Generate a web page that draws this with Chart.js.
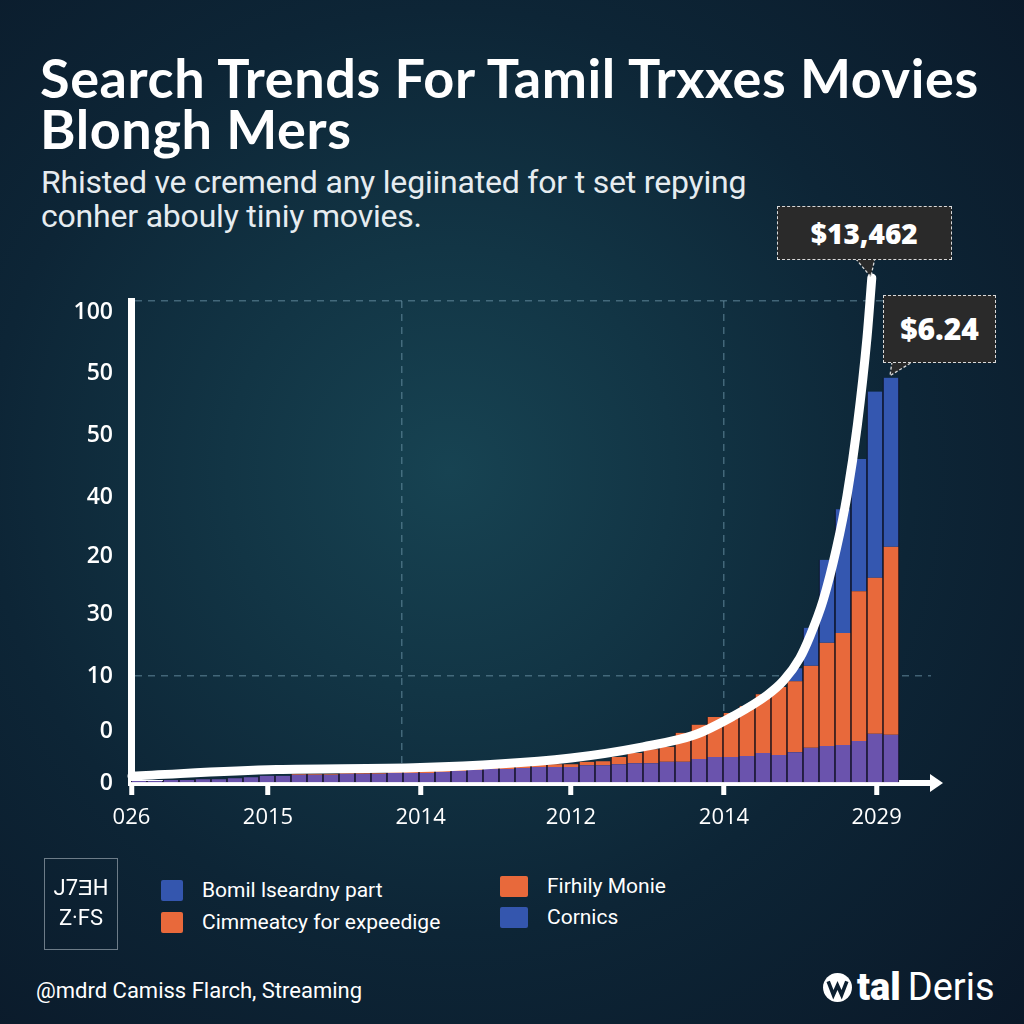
<!DOCTYPE html>
<html>
<head>
<meta charset="utf-8">
<script src="https://cdn.jsdelivr.net/npm/chart.js@4.4.1/dist/chart.umd.min.js"></script>
<style>
  html, body { margin: 0; padding: 0; }
  body {
    width: 1024px; height: 1024px; overflow: hidden; position: relative;
    background: radial-gradient(circle at 44% 46%, #174352 0%, #123545 28%, #0d2536 58%, #0a1828 100%);
    font-family: 'Roboto', sans-serif; color: #fff;
  }
  #title { position: absolute; left: 40px; top: 52px; font-family: 'Lato', sans-serif; font-weight: 700;
    font-size: 54px; line-height: 51px; letter-spacing: 0.6px; white-space: nowrap; }
  #sub { position: absolute; left: 41px; top: 165px; font-size: 32px; line-height: 34px; letter-spacing: -0.2px;
    color: #e6ecf0; white-space: nowrap; }
  #wrap { position: absolute; left: 0; top: 0; width: 1024px; height: 860px; }
  .callout { position: absolute; background: #2a2a2a; border: 1.5px dashed #d9d9d9; color: #fff;
    font-family: 'Open Sans', sans-serif; font-weight: 800; text-align: center; box-sizing: border-box; }
  #c1 { width: 175px; height: 54px; line-height: 52px; font-size: 28px; }
  #c2 { width: 113px; height: 68px; line-height: 66px; font-size: 30px; }
  #legbox { position: absolute; left: 44px; top: 858px; width: 74px; height: 92px; box-sizing: border-box;
    border: 1.5px solid #6d7c88; font-size: 22px; line-height: 30px; text-align: center; padding-top: 14px; }
  .item { position: absolute; font-size: 21px; white-space: nowrap; display: flex; align-items: center; }
  .sw { width: 22px; height: 21px; border-radius: 2px; margin-right: 19px; display: inline-block; }
  #foot { position: absolute; left: 36px; top: 978px; font-size: 22px; }
  #logo { position: absolute; left: 822px; top: 965px; font-size: 38px; display: flex; align-items: center; }
  #logo b { font-weight: 900; margin-left: 4px; margin-right: 7px; }
</style>
</head>
<body>
<div id="title">Search Trends For Tamil Trxxes Movies<br>Blongh Mers</div>
<div id="sub">Rhisted ve cremend any legiinated for t set repying<br>conher abouly tiniy movies.</div>
<div id="wrap"><canvas id="myChart" width="1024" height="860"></canvas></div>
<div class="callout" id="c1">$13,462</div>
<div class="callout" id="c2">$6.24</div>
<div id="legbox">J7ƎH<br>Z·FS</div>
<div class="item" style="left:161px; top:878px;"><span class="sw" style="background:#3456ae"></span>Bomil lseardny part</div>
<div class="item" style="left:161px; top:910px;"><span class="sw" style="background:#e8693b"></span>Cimmeatcy for expeedige</div>
<div class="item" style="left:500px; top:874px;"><span class="sw" style="background:#e8693b; width:28px"></span>Firhily Monie</div>
<div class="item" style="left:500px; top:905px;"><span class="sw" style="background:#3456ae; width:28px"></span>Cornics</div>
<div id="foot">@mdrd Camiss Flarch, Streaming</div>
<div id="logo"><svg width="31" height="31" viewBox="0 0 30 30"><circle cx="15" cy="15" r="14" fill="#fff"/><path d="M6 9 L11 22 L15 13 L19 22 L24 9" stroke="#0c1f30" stroke-width="3.5" fill="none"/></svg><b>tal</b>Deris</div>

<script>
// bar slots: 48 bars plus 2 empty slots at the right
const categories = ['1','2','3','4','5','6','7','8','9','10','11','12','13','14','15','16','17','18','19','20',
  '21','22','23','24','25','26','27','28','29','30','31','32','33','34','35','36','37','38','39','40',
  '41','42','43','44','45','46','47','48','49','50'];

const purpleVals = [0.4,0.4,0.6,0.6,0.8,0.8,1.0,1.2,1.5,1.5,1.7,1.7,1.7,1.9,1.9,1.9,2.1,2.1,2.1,2.3,
  2.5,2.7,2.9,2.9,3.1,3.3,3.3,3.3,3.7,3.7,3.9,4.1,4.1,4.4,4.4,5.0,5.4,5.4,5.6,6.2,
  5.8,6.4,7.3,7.7,7.9,8.7,10.2,10.0];
const orangeVals = [0,0,0,0,0,0,0,0,0,0, 0.2,0.2,0.2,0.2,0.2,0.2,0.2,0.4,0.4,0.4,
  0.4,0.4,0.4,0.6,0.6,0.6,0.6,0.6,0.7,0.8, 1.5,2.1,2.9,3.1,6.0,7.1,8.3,9.1,10.4,12.2,
  14.1,14.7,17.0,21.4,23.2,31.1,32.4,39.0];
const blueVals = [0,0,0,0,0,0,0,0,0,0, 0,0,0,0,0,0,0,0,0,0, 0,0,0,0,0,0,0,0,0,0,
  0,0,0,0,0,0,0,0,0,0, 0,2.7,7.9,17.2,25.7,27.4,38.6,35.1];

// white trend curve (x in bar-slot units)
const lineX = [-0.44, 8.6, 17.6, 27.0, 31.5, 34.75, 37.1, 39.25, 40.3, 41.3, 41.94, 42.75, 43.6, 44.25, 44.9, 45.5, 45.8];
const lineY = [1.45, 2.8, 3.2, 5.2, 7.5, 10.0, 13.8, 18.2, 21.3, 25.9, 30.5, 37.8, 48.8, 59.6, 74.3, 92.4, 104.8];

const yTickValues = [0, 10.6, 22.2, 34.9, 47.1, 59.3, 72.2, 84.9, 97.7, 100];
const yTickLabels = ['0', '0', '10', '30', '20', '40', '50', '50', '100', ''];
const yGridAt = [22.2, 100];

const xTickValues = [-0.47, 8.06, 16.44, 17.6, 27.0, 36.56, 46.1];
const xTickLabels = ['026', '2015', '', '2014', '2012', '2014', '2029'];
const xGridAt = [16.44, 36.56];

const gridCol = 'rgba(110,150,170,0.55)';

const calloutPlugin = {
  id: 'callouts',
  afterDraw(chart) {
    const ctx = chart.ctx;
    const lm = chart.getDatasetMeta(3).data;
    const tip1 = lm[lm.length - 1];
    const bm = chart.getDatasetMeta(2).data;
    const tip2 = bm[blueVals.length - 1];
    const c1 = document.getElementById('c1');
    const c2 = document.getElementById('c2');
    const b1 = { x: tip1.x - 95, y: tip1.y - 72 };
    const b2 = { x: tip2.x - 8, y: tip2.y - 83 };
    c1.style.left = b1.x + 'px'; c1.style.top = b1.y + 'px';
    c2.style.left = b2.x + 'px'; c2.style.top = b2.y + 'px';

    // pointers
    const ptr = (pts) => {
      ctx.save();
      ctx.beginPath();
      ctx.moveTo(pts[0][0], pts[0][1]);
      ctx.lineTo(pts[1][0], pts[1][1]);
      ctx.lineTo(pts[2][0], pts[2][1]);
      ctx.closePath();
      ctx.fillStyle = '#2a2a2a';
      ctx.fill();
      ctx.beginPath();
      ctx.moveTo(pts[0][0], pts[0][1]);
      ctx.lineTo(pts[1][0], pts[1][1]);
      ctx.lineTo(pts[2][0], pts[2][1]);
      ctx.strokeStyle = '#d9d9d9';
      ctx.lineWidth = 1.3;
      ctx.setLineDash([3, 2]);
      ctx.stroke();
      ctx.restore();
    };
    ptr([[tip1.x - 16, b1.y + 53], [tip1.x - 1, tip1.y - 1], [tip1.x + 3, b1.y + 53]]);
    ptr([[tip2.x + 1, b2.y + 67], [tip2.x - 1, tip2.y - 2], [tip2.x + 22, b2.y + 67]]);

    // x-axis arrow head
    const xs = chart.scales.xl;
    ctx.save();
    ctx.fillStyle = '#ffffff';
    ctx.beginPath();
    ctx.moveTo(xs.right + 12, xs.top);
    ctx.lineTo(xs.right - 1, xs.top - 9);
    ctx.lineTo(xs.right - 1, xs.top + 9);
    ctx.closePath();
    ctx.fill();
    ctx.restore();
  }
};

const barStyle = {
  borderColor: '#060a16',
  borderWidth: { left: 1, right: 1, top: 0, bottom: 0 },
  borderSkipped: false,
  grouped: false,
  barPercentage: 1,
  categoryPercentage: 1,
  order: 1
};

const ctx = document.getElementById('myChart').getContext('2d');
const myChart = new Chart(ctx, {
  type: 'bar',
  data: {
    labels: categories,
    datasets: [
      Object.assign({ type: 'bar', label: 'Bomil lseardny part', data: purpleVals, backgroundColor: '#6a53ad' }, barStyle),
      Object.assign({ type: 'bar', label: 'Cimmeatcy for expeedige', data: orangeVals, backgroundColor: '#e8693b' }, barStyle),
      Object.assign({ type: 'bar', label: 'Cornics', data: blueVals, backgroundColor: '#3457b0' }, barStyle),
      {
        type: 'line', label: 'Trend', xAxisID: 'xl',
        data: lineX.map((x, i) => ({ x: x, y: lineY[i] })),
        borderColor: '#ffffff', borderWidth: 9, pointRadius: 0,
        tension: 0.4, cubicInterpolationMode: 'monotone',
        borderCapStyle: 'round', clip: false, fill: false, order: 0
      }
    ]
  },
  options: {
    responsive: false,
    animation: false,
    layout: { padding: { left: 0, top: 301, right: 93, bottom: 17 } },
    plugins: { legend: { display: false }, tooltip: { enabled: false } },
    scales: {
      x: { type: 'category', stacked: true, offset: true, display: false },
      xl: {
        type: 'linear', position: 'bottom', min: -0.5, max: 49.5, z: 1, offset: false,
        afterBuildTicks: (scale) => { scale.ticks = xTickValues.map(v => ({ value: v })); },
        afterFit: (scale) => { scale.height = 60; },
        ticks: {
          autoSkip: false, maxRotation: 0, padding: 10,
          color: '#ffffff',
          font: { family: 'Open Sans', size: 22, weight: '500' },
          callback: (value, index) => xTickLabels[index]
        },
        grid: {
          offset: false,
          drawOnChartArea: true,
          color: (c) => (c.tick && xGridAt.includes(c.tick.value)) ? gridCol : 'rgba(0,0,0,0)',
          lineWidth: 1.5,
          tickColor: (c) => (c.tick && xTickLabels[c.index] !== '') ? '#ffffff' : 'rgba(0,0,0,0)',
          tickWidth: 5, tickLength: 12
        },
        border: { display: true, color: '#ffffff', width: 6, dash: [7, 6] }
      },
      y: {
        stacked: true, min: 0, max: 100,
        afterBuildTicks: (scale) => { scale.ticks = yTickValues.map(v => ({ value: v })); },
        afterFit: (scale) => { scale.width = 131; },
        ticks: {
          autoSkip: false, padding: 18, color: '#ffffff',
          font: { family: 'Open Sans', size: 23, weight: '600' },
          callback: (value, index) => yTickLabels[index]
        },
        grid: {
          drawTicks: false,
          color: (c) => (c.tick && yGridAt.includes(c.tick.value)) ? gridCol : 'rgba(0,0,0,0)',
          lineWidth: 1.5
        },
        border: { display: true, color: '#ffffff', width: 7, dash: [7, 6] }
      }
    }
  },
  plugins: [calloutPlugin]
});
</script>
</body>
</html>
